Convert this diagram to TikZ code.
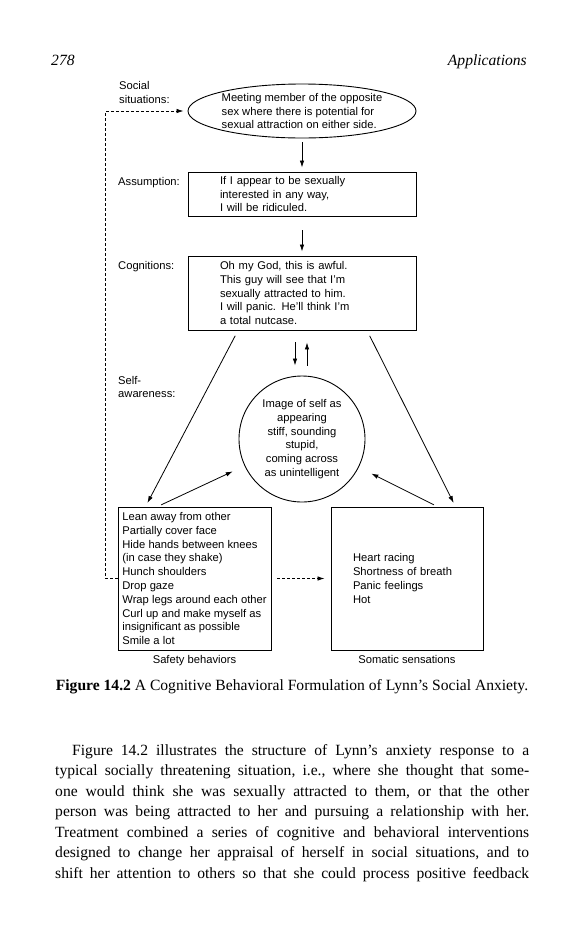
\documentclass[tikz,border=0pt]{standalone}
\usepackage{fontspec}
\setmainfont{Liberation Serif}
\setsansfont{Liberation Sans}
\usetikzlibrary{arrows.meta,positioning,shapes.geometric}
\newcommand{\diafont}{\sffamily\fontsize{11.2}{13.8}\selectfont}
\newcommand{\bookfont}{\rmfamily\fontsize{15.6}{20.5}\selectfont}
\tikzset{
	boxed/.style={draw, line width=0.9pt, inner sep=0pt, align=left},
	flow/.style={line width=0.8pt, -{Latex[length=7pt,width=4.5pt]}},
	dashflow/.style={flow, dash pattern=on 3pt off 2pt},
	tag/.style={inner sep=0pt, align=left, anchor=west}
}

\begin{document}
\begin{tikzpicture}[x=1pt, y=-1pt, font=\diafont]
			%%%%% START %%%%%
			
			\path[use as bounding box, fill=white] (0, 0) rectangle (583, 935);
			
			\node[anchor=base west, inner sep=0pt, font=\bookfont\itshape] (pageno) at (51, 65) {278};
			\node[anchor=base east, inner sep=0pt, font=\bookfont\itshape] (head) at (527, 65) {Applications};
			
			\node[tag] (lsit) at (119, 92.5) {Social\\situations:};
			\node[tag] (lassume) at (118, 183) {Assumption:};
			\node[tag] (lcog) at (118, 267) {Cognitions:};
			\node[tag] (lself) at (118, 387) {Self-\\awareness:};
			
			\node[boxed, ellipse, inner sep=-2pt, minimum width=228pt, minimum height=54pt] (sit) at (302, 111) {Meeting member of the opposite\\sex where there is potential for\\sexual attraction on either side.};
			\node[boxed, text width=164pt, inner xsep=32pt, minimum height=44pt] (assume) at (302, 194) {If I appear to be sexually\\interested in any way,\\I will be ridiculed.};
			\node[boxed, text width=164pt, inner xsep=32pt, minimum height=74pt] (cog) at (302, 293) {Oh my God, this is awful.\\This guy will see that I'm\\sexually attracted to him.\\I will panic. He'll think I'm\\a total nutcase.};
			\node[draw, line width=0.9pt, circle, minimum size=126pt, inner sep=0pt, align=center] (image) at (302, 439) {Image of self as\\appearing\\stiff, sounding\\stupid,\\coming across\\as unintelligent};
			
			\node[boxed, minimum width=153pt, minimum height=143pt] (safe) at (194.5, 578.5) {Lean away from other\\Partially cover face\\Hide hands between knees\\(in case they shake)\\Hunch shoulders\\Drop gaze\\Wrap legs around each other\\Curl up and make myself as\\insignificant as possible\\Smile a lot};
			\node[boxed, text width=108pt, inner xsep=22pt, minimum height=143pt] (soma) at (407, 578.5) {Heart racing\\Shortness of breath\\Panic feelings\\Hot};
			\node[inner sep=0pt, below=5pt of safe] (lsafe) {Safety behaviors};
			\node[inner sep=0pt, below=5pt of soma] (lsoma) {Somatic sensations};
			
			% arrows
			\draw[flow, shorten <=4pt, shorten >=4pt] (sit) -- (assume);
			\draw[flow, shorten <=14pt, shorten >=4pt] (assume) -- (cog);
			\draw[flow, shorten <=12pt, shorten >=10pt] ([xshift=-7pt]cog.south) -- ([xshift=-7pt]image.north);
			\draw[flow, shorten <=10pt, shorten >=12pt] ([xshift=5pt]image.north) -- ([xshift=5pt]cog.south);
			\draw[flow, shorten <=6pt, shorten >=4pt] ([xshift=-64pt]cog.south) -- ([xshift=28pt]safe.north west);
			\draw[flow, shorten <=6pt, shorten >=4pt] ([xshift=65pt]cog.south) -- ([xshift=-28pt]soma.north east);
			\draw[flow, shorten <=4pt, shorten >=13pt] ([xshift=40pt]safe.north west) -- (image);
			\draw[flow, shorten <=4pt, shorten >=14pt] ([xshift=-46pt]soma.north east) -- (image);
			\draw[dashflow, shorten <=6pt, shorten >=6pt] (safe) -- (soma);
			\draw[dashflow, shorten >=4pt] (safe.west) -- ++(-12, 0) |- (sit);
			
			% caption and text
			\node[inner sep=0pt, font=\bookfont] (cap) at (292, 687) {\textbf{Figure 14.2} A Cognitive Behavioral Formulation of Lynn's Social Anxiety.};
			\node[anchor=north west, inner sep=0pt, text width=474pt, align=justify, font=\bookfont] (body) at (55, 744) {\frenchspacing
				\hspace*{17pt}Figure 14.2 illustrates the structure of Lynn's anxiety response to a\linebreak
				typical socially threatening situation, i.e., where she thought that some-\linebreak
				one would think she was sexually attracted to them, or that the other\linebreak
				person was being attracted to her and pursuing a relationship with her.\linebreak
				Treatment combined a series of cognitive and behavioral interventions\linebreak
				designed to change her appraisal of herself in social situations, and to\linebreak
				shift her attention to others so that she could process positive feedback\unskip\parfillskip=0pt\par};
			
			%%%%% END %%%%%
\end{tikzpicture}
\end{document}
